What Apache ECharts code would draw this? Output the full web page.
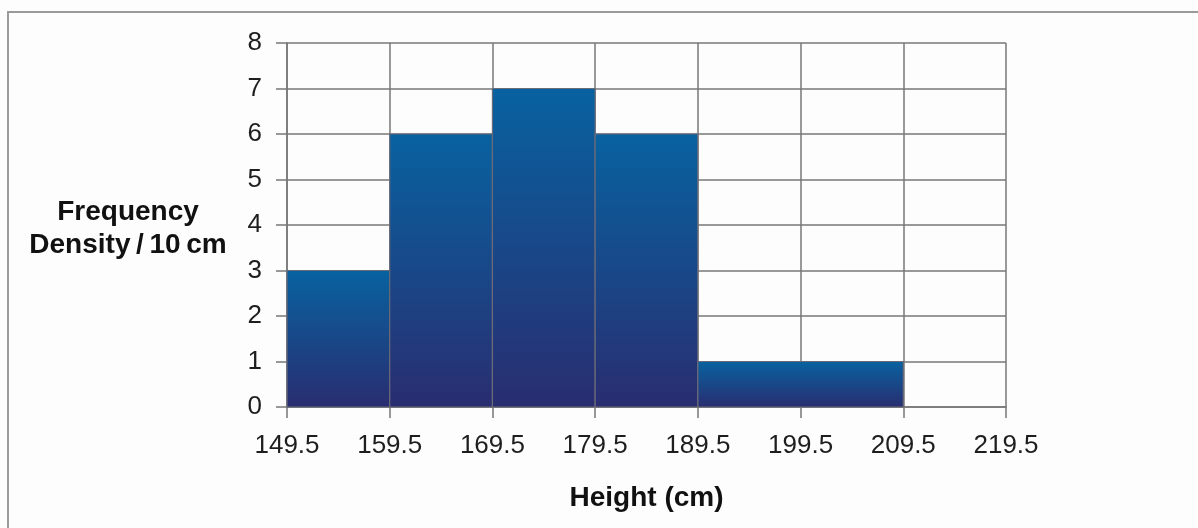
<!DOCTYPE html>
<html>
<head>
<meta charset="utf-8">
<script src="https://cdn.jsdelivr.net/npm/echarts@6/dist/echarts.min.js"></script>
<style>
html,body{margin:0;padding:0;background:#fdfdfd;}
#c{width:1198px;height:528px;}
</style>
</head>
<body>
<div id="c"></div>
<script>
// Histogram bins: [lower edge, upper edge]
const binStarts = [149.5, 159.5, 169.5, 179.5, 189.5];
const binEnds   = [159.5, 169.5, 179.5, 189.5, 209.5];
const densities = [3, 6, 7, 6, 1];
const xTicks = [149.5, 159.5, 169.5, 179.5, 189.5, 199.5, 209.5, 219.5];
const yTicks = [0, 1, 2, 3, 4, 5, 6, 7, 8];

const data = binStarts.map((s, i) => [s, binEnds[i], densities[i]]);

const chart = echarts.init(document.getElementById('c'), null, {renderer: 'canvas'});
const gray = '#777777';
chart.setOption({
  backgroundColor: '#fdfdfd',
  animation: false,
  grid: {left: 287, right: 192, top: 43, bottom: 121, containLabel: false},
  xAxis: {
    type: 'value',
    min: xTicks[0], max: xTicks[xTicks.length - 1], interval: 10,
    name: 'Height (cm)', nameLocation: 'middle', nameGap: 77,
    nameTextStyle: {fontFamily: 'Liberation Sans', fontSize: 28, fontWeight: 'bold', color: '#111'},
    axisLine: {show: true, lineStyle: {color: gray, width: 1.5}},
    axisTick: {show: true, length: 11, lineStyle: {color: gray, width: 1.5}},
    axisLabel: {fontFamily: 'Liberation Sans', fontSize: 26, color: '#1e1e1e', margin: 26,
      formatter: v => v.toFixed(1)},
    splitLine: {show: true, lineStyle: {color: gray, width: 1.5}}
  },
  yAxis: {
    type: 'value',
    min: yTicks[0], max: yTicks[yTicks.length - 1], interval: 1,
    axisLine: {show: true, lineStyle: {color: gray, width: 1.5}},
    axisTick: {show: true, length: 11, lineStyle: {color: gray, width: 1.5}},
    axisLabel: {fontFamily: 'Liberation Sans', fontSize: 26, color: '#1e1e1e', margin: 25},
    splitLine: {show: true, lineStyle: {color: gray, width: 1.5}}
  },
  graphic: [
    {type: 'rect', silent: true, z: -10,
     shape: {x: 8, y: 12, width: 1400, height: 800},
     style: {fill: 'none', stroke: '#9a9a9a', lineWidth: 2}},
    {type: 'text', silent: true,
     x: 128, y: 229,
     style: {text: 'Frequency\nDensity\u2009/\u200910\u2009cm', fontFamily: 'Liberation Sans', fontSize: 28,
       fontWeight: 'bold', fill: '#111', align: 'center', verticalAlign: 'middle', lineHeight: 33}}
  ],
  series: [{
    type: 'custom',
    data: data,
    encode: {x: [0, 1], y: 2},
    renderItem: function (params, api) {
      const p0 = api.coord([api.value(0), api.value(2)]);
      const p1 = api.coord([api.value(1), 0]);
      return {
        type: 'rect',
        shape: {x: p0[0], y: p0[1], width: p1[0] - p0[0], height: p1[1] - p0[1]},
        style: {
          fill: new echarts.graphic.LinearGradient(0, 0, 0, 1, [
            {offset: 0, color: '#0862a0'},
            {offset: 1, color: '#292d70'}
          ]),
          stroke: '#6a6a78', lineWidth: 1.2
        }
      };
    }
  }]
});
</script>
</body>
</html>
